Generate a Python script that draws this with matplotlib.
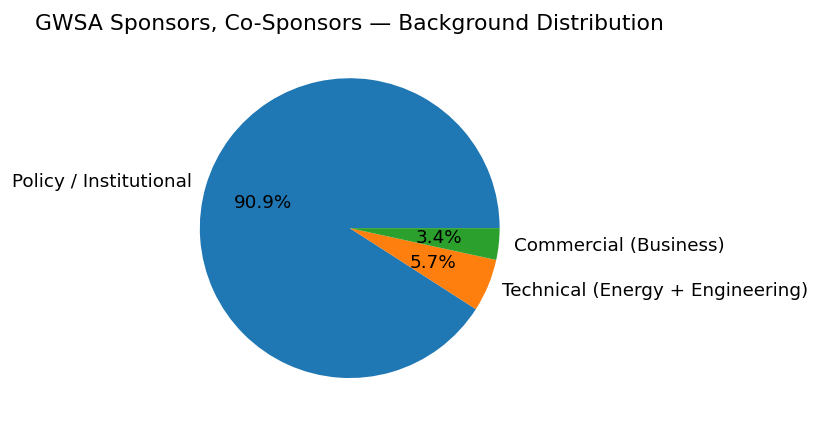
import matplotlib
matplotlib.use("Agg")
import matplotlib.pyplot as plt

categories = ["Policy / Institutional", "Technical (Energy + Engineering)", "Commercial (Business)"]
counts = [80, 5, 3]
colors = ["#1f77b4", "#ff7f0e", "#2ca02c"]

fig = plt.figure(figsize=(8.2, 4.28), dpi=100)
ax = fig.add_axes([0.198, 0.029, 0.457, 0.876])
ax.pie(counts, labels=categories, colors=colors, autopct="%1.1f%%",
       textprops={"fontsize": 13.2})
ax.set_aspect("equal")
ax.set_title("GWSA Sponsors, Co-Sponsors — Background Distribution", fontsize=15.75, pad=8)
fig.savefig("out.png", dpi=100)
